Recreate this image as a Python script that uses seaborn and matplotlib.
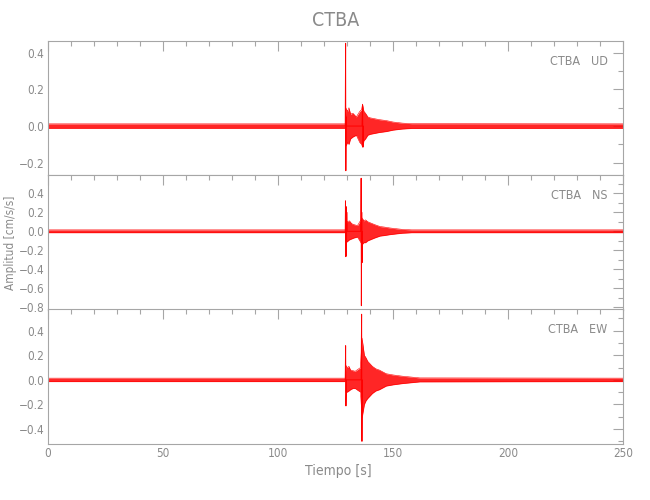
import matplotlib
matplotlib.use("Agg")
import matplotlib.pyplot as plt
from matplotlib.ticker import MultipleLocator, FuncFormatter
import pandas as pd
import seaborn as sns

# --- datos (tiempo en s, amplitud en cm/s/s) ---
station = "CTBA"
components = ["UD", "NS", "EW"]
t_max = 250

# envolvente (ruido + coda)
t_env_ud = [0, 129.2, 129.4, 130.2, 130.8, 131.5, 132.5, 134, 135.5, 136.3, 136.7, 137.3, 138, 139, 140, 142, 144, 147, 150, 154, 158, 250]
up_ud = [0.012, 0.012, 0.10, 0.08, 0.10, 0.065, 0.07, 0.05, 0.08, 0.09, 0.12, 0.08, 0.07, 0.05, 0.045, 0.04, 0.035, 0.03, 0.022, 0.016, 0.013, 0.012]
lo_ud = [-0.012, -0.012, -0.11, -0.09, -0.10, -0.07, -0.06, -0.05, -0.09, -0.10, -0.115, -0.08, -0.07, -0.05, -0.045, -0.04, -0.035, -0.03, -0.022, -0.016, -0.013, -0.012]

t_env_ns = [0, 129.2, 129.4, 130, 131, 132, 133, 134.5, 135.5, 136.5, 137.3, 138, 139, 140, 142, 144.3, 146, 148.6, 151, 154, 158, 250]
up_ns = [0.015, 0.015, 0.12, 0.10, 0.11, 0.08, 0.07, 0.06, 0.10, 0.14, 0.11, 0.12, 0.10, 0.09, 0.07, 0.05, 0.045, 0.035, 0.028, 0.02, 0.015, 0.015]
lo_ns = [-0.015, -0.015, -0.12, -0.11, -0.09, -0.08, -0.07, -0.06, -0.10, -0.14, -0.12, -0.12, -0.10, -0.09, -0.07, -0.05, -0.045, -0.035, -0.028, -0.02, -0.015, -0.015]

t_env_ew = [0, 129.2, 129.4, 130, 130.8, 131.5, 132.5, 133.5, 135.8, 136.5, 137.5, 138.2, 139, 140, 141, 142.5, 144, 147, 150, 154, 161.6, 250]
up_ew = [0.014, 0.014, 0.12, 0.10, 0.11, 0.08, 0.075, 0.07, 0.10, 0.34, 0.20, 0.18, 0.15, 0.13, 0.11, 0.09, 0.08, 0.05, 0.04, 0.03, 0.016, 0.014]
lo_ew = [-0.014, -0.014, -0.10, -0.10, -0.09, -0.08, -0.07, -0.07, -0.10, -0.31, -0.20, -0.17, -0.15, -0.13, -0.11, -0.09, -0.08, -0.05, -0.04, -0.03, -0.016, -0.014]

# picos principales (llegadas P y S)
t_spk_ud = [129.2, 129.35, 129.45, 129.6, 129.8, 136.5, 136.7, 136.9, 137.1]
v_spk_ud = [0.0, 0.452, -0.244, 0.05, 0.0, 0.0, 0.116, -0.115, 0.0]

t_spk_ns = [129.2, 129.3, 129.4, 129.55, 129.7, 129.85, 130.0, 136.0, 136.1, 136.2, 136.35, 136.5, 136.7]
v_spk_ns = [0.0, 0.32, -0.267, 0.26, -0.26, 0.2, 0.0, 0.0, 0.558, -0.783, 0.2, -0.33, 0.0]

t_spk_ew = [129.2, 129.35, 129.5, 129.7, 136.1, 136.3, 136.45, 136.6]
v_spk_ew = [0.0, 0.278, -0.212, 0.0, 0.0, 0.534, -0.50, 0.0]

ylims = {"UD": (-0.269, 0.464), "NS": (-0.823, 0.589), "EW": (-0.519, 0.573)}

traces = {
    "UD": (t_env_ud, up_ud, lo_ud, t_spk_ud, v_spk_ud),
    "NS": (t_env_ns, up_ns, lo_ns, t_spk_ns, v_spk_ns),
    "EW": (t_env_ew, up_ew, lo_ew, t_spk_ew, v_spk_ew),
}

gray_txt = "#8a8a8a"
gray_ax = "#a6a6a6"
red = "#ff0000"

sns.set_style("white")
plt.rcParams["font.family"] = ["DejaVu Sans"]
plt.rcParams["font.stretch"] = "condensed"
plt.rcParams["axes.unicode_minus"] = True

fig = plt.figure(figsize=(6.5, 5), dpi=100)

left, width, height = 0.0737, 0.8852, 0.2684
bottoms = [0.6494, 0.381, 0.1127]
for comp, bot in zip(components, bottoms):
    ax = fig.add_axes([left, bot, width, height])
    t_env, up, lo, t_spk, v_spk = traces[comp]
    env = pd.DataFrame({"t": t_env, "up": up, "lo": lo})
    spk = pd.DataFrame({"t": t_spk, "v": v_spk})

    ax.fill_between(env["t"], env["lo"], env["up"], color=red, alpha=0.85, lw=0)
    sns.lineplot(data=env, x="t", y="up", ax=ax, color=red, lw=0.4, estimator=None)
    sns.lineplot(data=env, x="t", y="lo", ax=ax, color=red, lw=0.4, estimator=None)
    sns.lineplot(data=spk, x="t", y="v", ax=ax, color=red, lw=0.7, estimator=None, sort=False)

    ax.set_xlim(0, t_max)
    ax.set_ylim(*ylims[comp])
    ax.set_xlabel("")
    ax.set_ylabel("")

    ax.xaxis.set_major_locator(MultipleLocator(50))
    ax.xaxis.set_minor_locator(MultipleLocator(10))
    ax.yaxis.set_major_locator(MultipleLocator(0.2))
    ax.yaxis.set_minor_locator(MultipleLocator(0.1))
    ax.yaxis.set_major_formatter(FuncFormatter(lambda v, p: f"{v:.1f}".replace("-", "\u2212")))

    ax.tick_params(which="both", direction="in", top=True, right=True,
                   color=gray_ax, labelcolor=gray_txt, width=0.8, labelsize=8.5)
    ax.tick_params(which="major", length=7, pad=2.5)
    ax.tick_params(which="minor", length=3.5)
    if comp != "EW":
        ax.tick_params(axis="x", labelbottom=False)

    for s in ax.spines.values():
        s.set_color(gray_ax)
        s.set_linewidth(0.8)

    ax.text(0.973, 0.851, f"{station}   {comp}", transform=ax.transAxes,
            ha="right", va="center", color=gray_txt, fontsize=9)

fig.text(0.516, 0.96, station, ha="center", va="center", color=gray_txt, fontsize=14)
fig.text(0.52, 0.057, "Tiempo [s]", ha="center", va="center", color=gray_txt, fontsize=10)
fig.text(0.016, 0.515, "Amplitud [cm/s/s]", ha="center", va="center", rotation=90,
         color=gray_txt, fontsize=8.5)

fig.savefig("out.png", dpi=100)
